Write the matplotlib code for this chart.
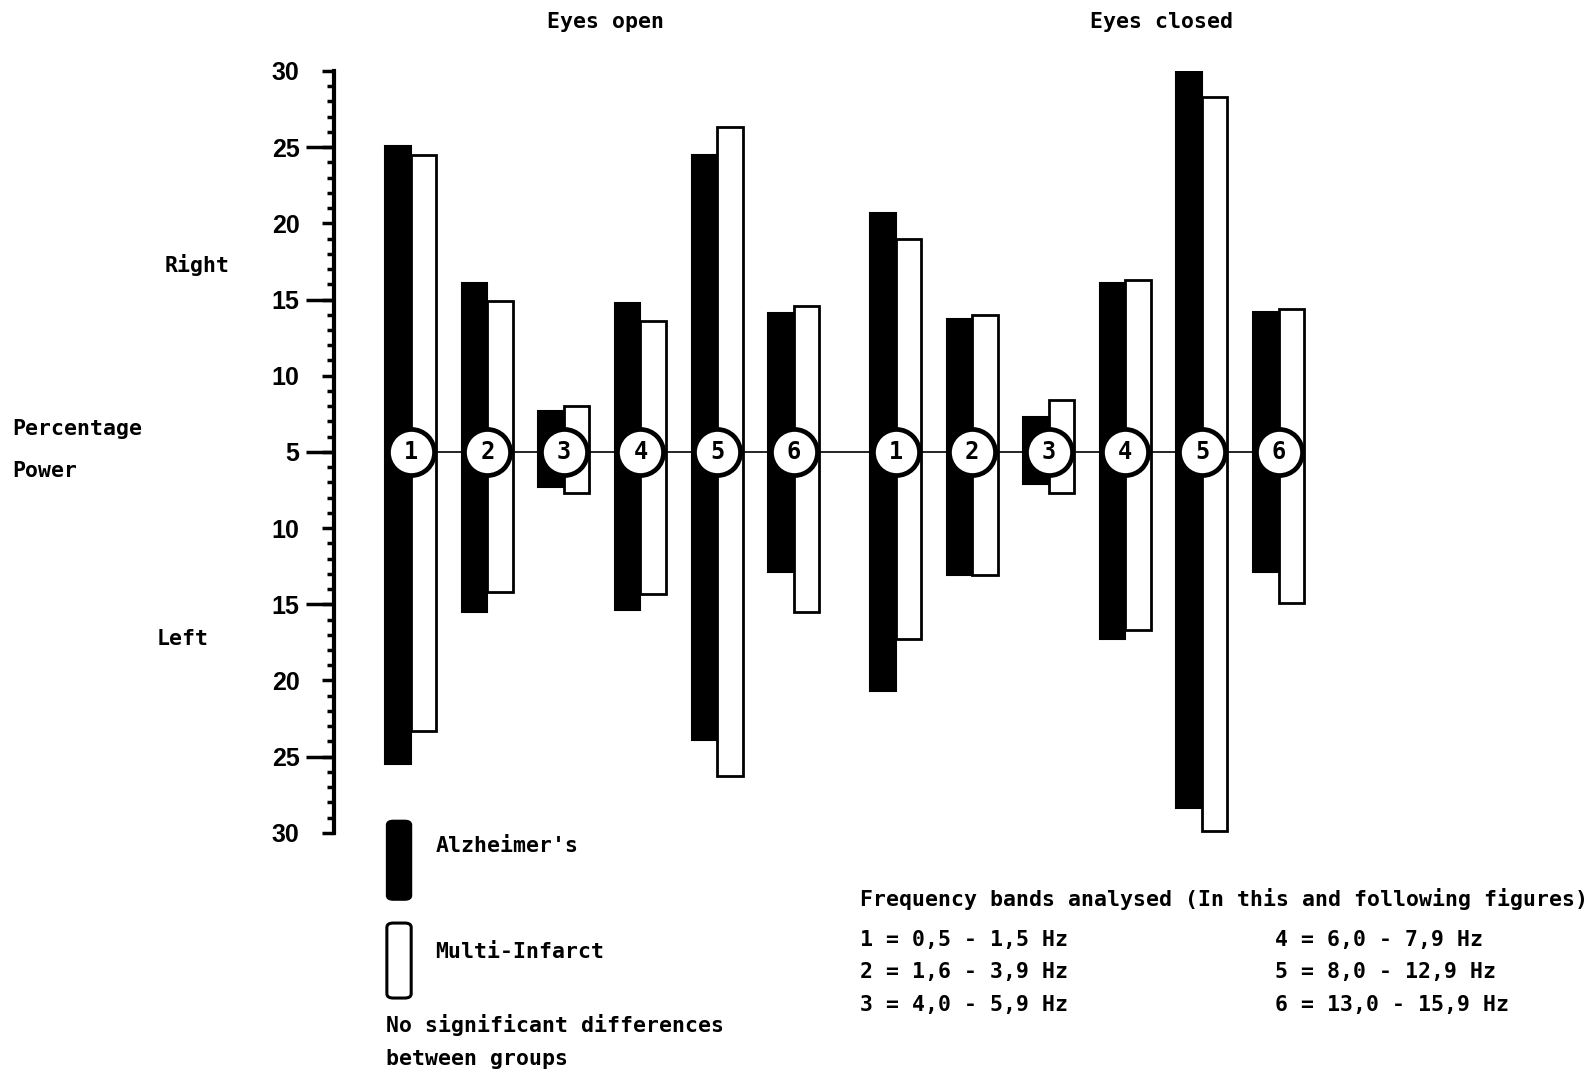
import numpy as np
import matplotlib.pyplot as plt
from matplotlib.patches import FancyBboxPatch
from matplotlib.transforms import blended_transform_factory

# percentage power per frequency band, read on the scale (centre line = 5)
bands = [1, 2, 3, 4, 5, 6]
open_alz_right = [25.1, 16.1, 7.7, 14.8, 24.5, 14.1]
open_alz_left = [25.5, 15.5, 7.3, 15.4, 23.9, 12.9]
open_mi_right = [24.5, 14.9, 8.0, 13.6, 26.3, 14.6]
open_mi_left = [23.3, 14.2, 7.7, 14.3, 26.3, 15.5]
closed_alz_right = [20.7, 13.7, 7.3, 16.1, 30.0, 14.2]
closed_alz_left = [20.7, 13.1, 7.1, 17.3, 28.4, 12.9]
closed_mi_right = [19.0, 14.0, 8.4, 16.3, 28.3, 14.4]
closed_mi_left = [17.3, 13.1, 7.7, 16.7, 29.9, 14.9]

tick_pos = [-25, -20, -15, -10, -5, 0, 5, 10, 15, 20, 25]
tick_labels = ["30", "25", "20", "15", "10", "5", "10", "15", "20", "25", "30"]

band_text = ["1 = 0,5 - 1,5 Hz", "2 = 1,6 - 3,9 Hz", "3 = 4,0 - 5,9 Hz",
             "4 = 6,0 - 7,9 Hz", "5 = 8,0 - 12,9 Hz", "6 = 13,0 - 15,9 Hz"]

CENTRE = 5
MONO = "DejaVu Sans Mono"
W, H = 1568, 1058  # layout grid in pixels


def fx(x):
    return x / W


def fy(y):
    return 1 - y / H


fig = plt.figure(figsize=(15.88, 10.72), dpi=100)
ax = fig.add_axes([fx(330), fy(822), fx(1338) - fx(330), fy(70) - fy(822)])
ax.set_xlim(0, 40)
ax.set_ylim(-25, 25)


def draw_panel(x0, alz_r, alz_l, mi_r, mi_l):
    xs = x0 + 3 * np.arange(len(bands))
    up_a = np.array(alz_r) - CENTRE
    dn_a = np.array(alz_l) - CENTRE
    up_m = np.array(mi_r) - CENTRE
    dn_m = np.array(mi_l) - CENTRE
    ax.bar(xs + 0.5, up_m + dn_m, bottom=-dn_m, width=1.0, color="white",
           edgecolor="black", linewidth=2.0, zorder=2)
    ax.bar(xs - 0.5, up_a + dn_a, bottom=-dn_a, width=1.0, color="black",
           edgecolor="black", linewidth=1.5, zorder=3)
    ax.scatter(xs, np.zeros_like(xs), s=1100, facecolor="white",
               edgecolor="black", linewidth=3.4, zorder=5)
    for x, b in zip(xs, bands):
        ax.text(x, 0, str(b), ha="center", va="center", fontsize=17,
                family=MONO, fontweight="bold", zorder=6)
    return xs


xs_open = draw_panel(3, open_alz_right, open_alz_left, open_mi_right, open_mi_left)
xs_closed = draw_panel(22, closed_alz_right, closed_alz_left, closed_mi_right, closed_mi_left)
ax.plot([xs_open[0], xs_closed[-1]], [0, 0], color="black", lw=1.2, zorder=1)

# axis: only the left spine, mirrored scale
for s in ["top", "right", "bottom"]:
    ax.spines[s].set_visible(False)
ax.spines["left"].set_linewidth(3)
ax.set_xticks([])
ax.set_yticks(tick_pos)
ax.set_yticklabels(tick_labels)
ax.set_yticks(np.arange(-25, 26, 1), minor=True)
ax.tick_params(axis="y", which="major", direction="out", length=9, width=2.5,
               pad=16, labelsize=18)
ax.tick_params(axis="y", which="minor", direction="out", length=5, width=2.5)
for lab in ax.get_yticklabels():
    lab.set_family("Liberation Sans")
    lab.set_fontweight("bold")

# longer ticks at 25, 15, 5
tr = blended_transform_factory(ax.transAxes, ax.transData)
for y in [-20, -10, 0, 10, 20]:
    ax.plot([-0.028, 0], [y, y], color="black", lw=2.5, transform=tr,
            clip_on=False, solid_capstyle="butt")

txt = dict(family=MONO, fontsize=15.5, fontweight="bold", color="black")
fig.text(fx(598), fy(22), "Eyes open", ha="center", va="center", **txt)
fig.text(fx(1147), fy(22), "Eyes closed", ha="center", va="center", **txt)
fig.text(fx(163), fy(262), "Right", ha="left", va="center", **txt)
fig.text(fx(155), fy(631), "Left", ha="left", va="center", **txt)
fig.text(fx(12), fy(423), "Percentage", ha="left", va="center", **txt)
fig.text(fx(12), fy(465), "Power", ha="left", va="center", **txt)

# legend swatches
fig.add_artist(FancyBboxPatch((fx(382), fy(888)), fx(24), fy(810) - fy(888),
                              boxstyle="round,pad=0,rounding_size=0.004",
                              facecolor="black", edgecolor="black", lw=1.5,
                              transform=fig.transFigure))
fig.add_artist(FancyBboxPatch((fx(382), fy(985)), fx(24), fy(911) - fy(985),
                              boxstyle="round,pad=0,rounding_size=0.004",
                              facecolor="white", edgecolor="black", lw=2.2,
                              transform=fig.transFigure))
fig.text(fx(430), fy(835), "Alzheimer's", ha="left", va="center", **txt)
fig.text(fx(430), fy(940), "Multi-Infarct", ha="left", va="center", **txt)
fig.text(fx(381), fy(1012), "No significant differences", ha="left", va="center", **txt)
fig.text(fx(381), fy(1045), "between groups", ha="left", va="center", **txt)

fig.text(fx(849), fy(887), "Frequency bands analysed (In this and following figures)",
         ha="left", va="center", **txt)
rows_y = [928, 959, 992]
for i, t in enumerate(band_text):
    col_x = 849 if i < 3 else 1259
    fig.text(fx(col_x), fy(rows_y[i % 3]), t, ha="left", va="center", **txt)

fig.savefig("out.png", dpi=100)
